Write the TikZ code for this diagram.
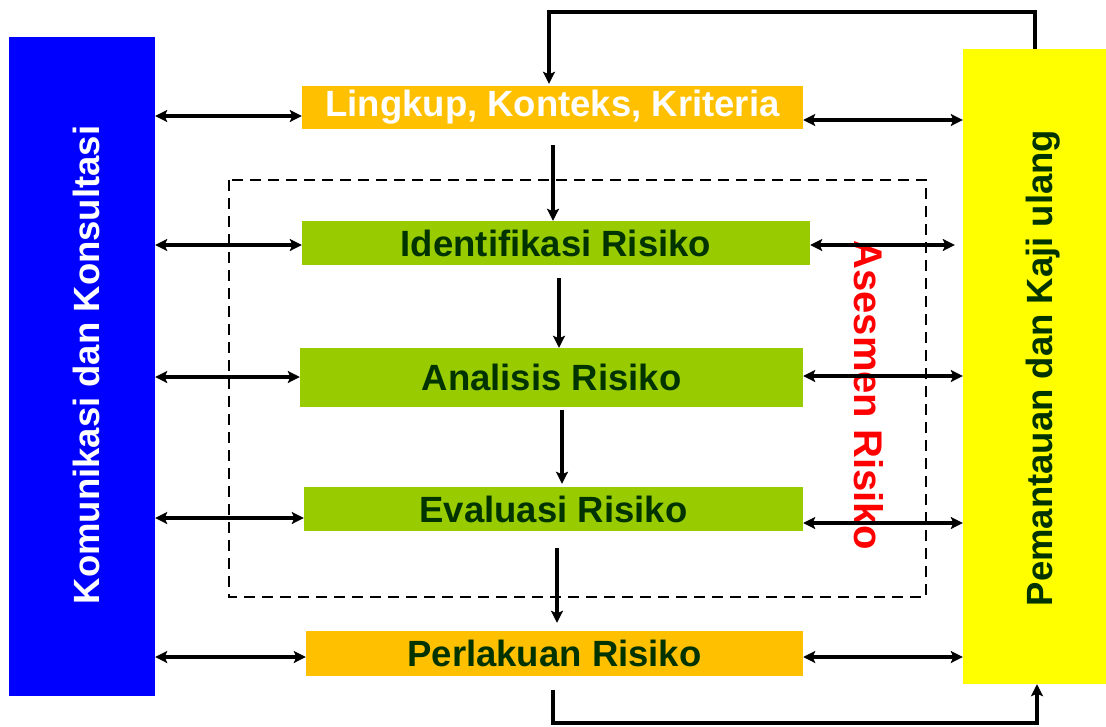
\documentclass[tikz,border=0pt]{standalone}
\usepackage{fontspec}
\setmainfont{Liberation Sans}
\usetikzlibrary{arrows.meta}
\definecolor{kblue}{RGB}{0,0,255}
\definecolor{kyellow}{RGB}{255,255,0}
\definecolor{korange}{RGB}{255,192,0}
\definecolor{kgreen}{RGB}{153,204,0}
\definecolor{kdark}{RGB}{0,51,0}
\definecolor{kred}{RGB}{255,0,0}
\tikzset{
  box/.style={draw=none, inner sep=0pt, minimum width=#1},
  lbl/.style={font=\fontsize{36.5}{40}\selectfont\bfseries, inner sep=0pt},
  tip/.style={},
  dbl/.style={line width=3.4pt, {Stealth[length=12pt,width=12pt,inset=2.5pt]}-{Stealth[length=12pt,width=12pt,inset=2.5pt]}},
  arr/.style={line width=3.4pt, -{Stealth[length=12pt,width=12pt,inset=2.5pt]}},
  loopln/.style={line width=3.4pt, -{Stealth[length=12pt,width=12pt,inset=2.5pt]}},
}
\begin{document}
\begin{tikzpicture}[x=1pt,y=-1pt]
\useasboundingbox (0,0) rectangle (1106,726);
\fill[white] (0,0) rectangle (1106,726);
% side panels
\node[box=146pt, minimum height=659pt, fill=kblue] (blue) at (82,366.5) {};
\node[box=143pt, minimum height=635pt, fill=kyellow] (yellow) at (1034.5,366.5) {};
\node[lbl, text=white, rotate=90] (bluetxt) at (86,365) {Komunikasi dan Konsultasi};
\node[lbl, text=kdark, rotate=90] (yeltxt) at (1043,368) {Pemantauan dan Kaji ulang};
% dashed assessment frame
\draw[line width=2.6pt, dash pattern=on 11pt off 7pt] (229,180) rectangle (926,597);
\node[font=\fontsize{40}{44}\selectfont\bfseries, text=kred, inner sep=0pt, rotate=-90] (asesmen) at (869,395) {Asesmen Risiko};
% process boxes
\node[box=501pt, minimum height=43pt, fill=korange] (lingkup) at (552.5,107.5) {};
\node[lbl, text=white] at (lingkup.center) {Lingkup, Konteks, Kriteria};
\node[box=508pt, minimum height=44pt, fill=kgreen] (ident) at (556,243) {};
\node[lbl, text=kdark] at (ident.center) {Identifikasi Risiko};
\node[box=503pt, minimum height=59pt, fill=kgreen] (anal) at (551.5,377.5) {};
\node[lbl, text=kdark] at (anal.center) {Analisis Risiko};
\node[box=499pt, minimum height=44pt, fill=kgreen] (eval) at (553.5,509) {};
\node[lbl, text=kdark] at (eval.center) {Evaluasi Risiko};
\node[box=497pt, minimum height=45pt, fill=korange] (perl) at (554.5,653.5) {};
\node[lbl, text=kdark] at (perl.center) {Perlakuan Risiko};
% vertical flow arrows
\draw[arr] (553,145) -- (ident.north -| 553,0);
\draw[arr] (559,278) -- (anal.north -| 559,0);
\draw[arr] (562,410) -- ([yshift=3pt]eval.north -| 562,0);
\draw[arr] (557,548) -- ([yshift=8pt]perl.north -| 557,0);
% left double arrows
\draw[dbl] (blue.east |- 0,116) -- (lingkup.west |- 0,116);
\draw[dbl] (blue.east |- 0,245) -- (ident.west |- 0,245);
\draw[dbl] (blue.east |- 0,377) -- (anal.west |- 0,377);
\draw[dbl] (blue.east |- 0,518) -- (eval.west |- 0,518);
\draw[dbl] (blue.east |- 0,657) -- (perl.west |- 0,657);
% right double arrows
\draw[dbl] (lingkup.east |- 0,120) -- (yellow.west |- 0,120);
\draw[dbl] (ident.east |- 0,245) -- ([xshift=-8pt]yellow.west |- 0,245);
\draw[dbl] (anal.east |- 0,376) -- (yellow.west |- 0,376);
\draw[dbl] (eval.east |- 0,523) -- (yellow.west |- 0,523);
\draw[dbl] (perl.east |- 0,657) -- (yellow.west |- 0,657);
% feedback loops
\coordinate (tl) at (549,12);
\coordinate (tr) at (1035,12);
\draw[loopln] (yellow.north -| tr) -- (tr) -- (tl) -- ([yshift=2pt]lingkup.north -| tl);
\coordinate (bl) at (553,723);
\coordinate (br) at (1037,723);
\draw[loopln] ([yshift=-14pt]perl.south -| bl) -- (bl) -- (br) -- (yellow.south -| br);
\end{tikzpicture}
\end{document}
